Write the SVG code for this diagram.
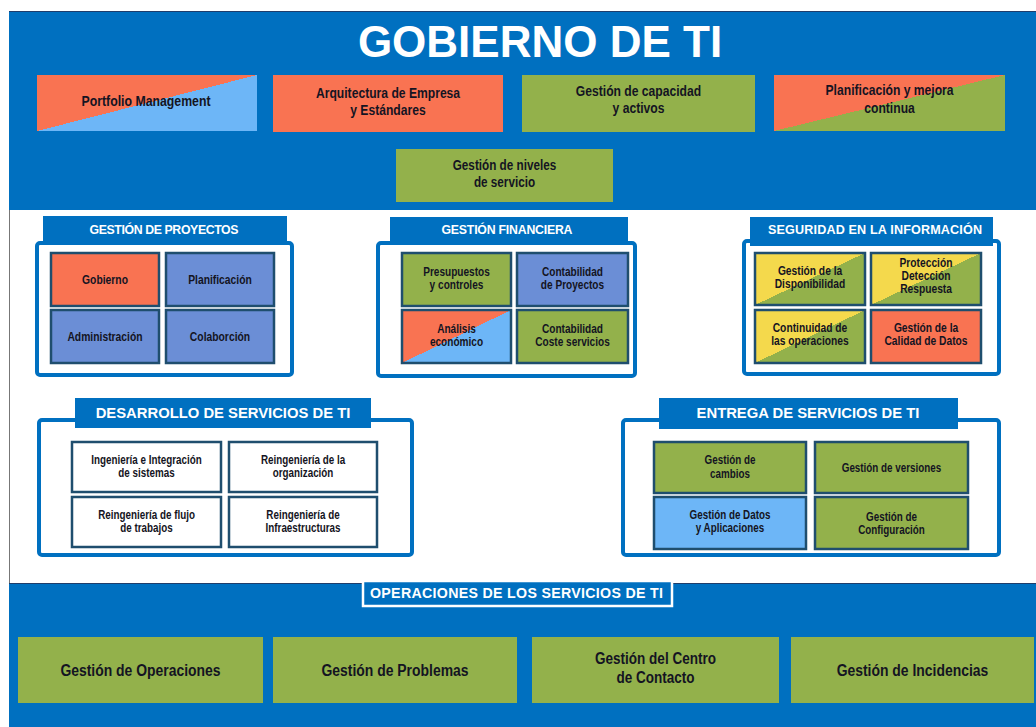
<svg xmlns="http://www.w3.org/2000/svg" width="1036" height="727" viewBox="0 0 1036 727">
<style>
.band{fill:#0070C0}
.frame{fill:#FFFFFF;stroke:#0070C0;stroke-width:4}
.tab{fill:#0070C0}
.tabt{font-family:"Liberation Sans",Arial,sans-serif;font-weight:bold;fill:#FFFFFF;text-anchor:middle}
.bx{stroke:#1F4E6E;stroke-width:2.5}
.t{font-family:"Liberation Sans",Arial,sans-serif;font-weight:bold;fill:#141422;text-anchor:middle;transform-box:fill-box;transform-origin:50% 50%;transform:scaleX(0.82)}
.orange{fill:#F97352}
.green{fill:#93B14B}
.lblue{fill:#6DB6F7}
.slate{fill:#6B8ED6}
.white{fill:#FFFFFF}
</style>
<defs>
<linearGradient id="orBl" x1="0" y1="0" x2="1" y2="1"><stop offset="0.5" stop-color="#F97352"/><stop offset="0.5" stop-color="#6DB6F7"/></linearGradient>
<linearGradient id="orGr" x1="0" y1="0" x2="1" y2="1"><stop offset="0.5" stop-color="#F97352"/><stop offset="0.5" stop-color="#93B14B"/></linearGradient>
<linearGradient id="yeGr" x1="0" y1="0" x2="1" y2="1"><stop offset="0.5" stop-color="#F4D94C"/><stop offset="0.5" stop-color="#93B14B"/></linearGradient>
</defs>
<rect width="1036" height="727" fill="#FFFFFF"/>
<line x1="9.5" y1="210" x2="9.5" y2="583" stroke="#777" stroke-width="1"/>

<g id="gobierno">
<rect class="band" x="9" y="11" width="1027" height="199"/>
<line x1="9" y1="11.5" x2="1036" y2="11.5" stroke="#1F3D6B" stroke-width="1"/>
<text x="540" y="57" font-family="Liberation Sans,Arial,sans-serif" font-weight="bold" font-size="44" fill="#FFFFFF" text-anchor="middle">GOBIERNO DE TI</text>
</g>
<g id="portfolio">
<rect x="37" y="75" width="220" height="56" fill="url(#orBl)"/>
<text class="t" x="146" y="106" font-size="15">Portfolio Management</text>
</g>
<g id="arquitectura">
<rect class="orange" x="273" y="75" width="230" height="57"/>
<text class="t" x="388" y="98" font-size="14.8">Arquitectura de Empresa</text>
<text class="t" x="388" y="115" font-size="14.8">y Estándares</text>
</g>
<g id="capacidad">
<rect class="green" x="522" y="75" width="233" height="57"/>
<text class="t" x="638.5" y="96" font-size="14.8">Gestión de capacidad</text>
<text class="t" x="638.5" y="113" font-size="14.8">y activos</text>
</g>
<g id="planificacion-mejora">
<rect x="774" y="75" width="231" height="56" fill="url(#orGr)"/>
<text class="t" x="889.5" y="95.5" font-size="14.8">Planificación y mejora</text>
<text class="t" x="889.5" y="113" font-size="14.8">continua</text>
</g>
<g id="niveles-servicio">
<rect class="green" x="396" y="149" width="217" height="53"/>
<text class="t" x="504.5" y="170" font-size="14.3">Gestión de niveles</text>
<text class="t" x="504.5" y="187" font-size="14.3">de servicio</text>
</g>

<g id="gestion-proyectos">
<rect class="frame" x="37" y="243" width="255" height="132" rx="3"/>
<rect class="tab" x="43" y="216" width="244" height="27"/>
<text class="tabt" x="164" y="234" font-size="12.3" textLength="149">GESTIÓN DE PROYECTOS</text>
</g>
<g id="gobierno-p"><rect class="bx orange" x="51" y="253" width="108" height="53"/><text class="t" x="105" y="284" font-size="12.6">Gobierno</text></g>
<g id="planificacion-p"><rect class="bx slate" x="166" y="253" width="108" height="53"/><text class="t" x="220" y="284" font-size="12.6">Planificación</text></g>
<g id="administracion-p"><rect class="bx slate" x="51" y="310" width="108" height="53"/><text class="t" x="105" y="341" font-size="12.6">Administración</text></g>
<g id="colaboracion-p"><rect class="bx slate" x="166" y="310" width="108" height="53"/><text class="t" x="220" y="341" font-size="12.6">Colaborción</text></g>

<g id="gestion-financiera">
<rect class="frame" x="378" y="243" width="257" height="133" rx="3"/>
<rect class="tab" x="390" y="217" width="238" height="26"/>
<text class="tabt" x="507" y="234" font-size="12.3" textLength="131">GESTIÓN FINANCIERA</text>
</g>
<g id="presupuestos"><rect class="bx green" x="402" y="253" width="109" height="53"/><text class="t" x="456.5" y="276" font-size="12.3">Presupuestos</text><text class="t" x="456.5" y="289.5" font-size="12.3">y controles</text></g>
<g id="contab-proyectos"><rect class="bx slate" x="517" y="253" width="111" height="53"/><text class="t" x="572.5" y="276" font-size="12.3">Contabilidad</text><text class="t" x="572.5" y="289.5" font-size="12.3">de Proyectos</text></g>
<g id="analisis"><rect class="bx" x="402" y="310" width="109" height="53" fill="url(#orBl)"/><text class="t" x="456.5" y="333" font-size="12.3">Análisis</text><text class="t" x="456.5" y="346.5" font-size="12.3">económico</text></g>
<g id="contab-coste"><rect class="bx green" x="517" y="310" width="111" height="53"/><text class="t" x="572.5" y="333" font-size="12.3">Contabilidad</text><text class="t" x="572.5" y="346.5" font-size="12.3">Coste servicios</text></g>

<g id="seguridad">
<rect class="frame" x="744" y="241" width="255" height="133" rx="3"/>
<rect class="tab" x="750" y="217" width="243" height="29"/>
<text class="tabt" x="875" y="234" font-size="12.6" textLength="214">SEGURIDAD EN LA INFORMACIÓN</text>
</g>
<g id="disponibilidad"><rect class="bx" x="755" y="253" width="110" height="52" fill="url(#yeGr)"/><text class="t" x="810" y="275" font-size="12.5">Gestión de la</text><text class="t" x="810" y="288.5" font-size="12.5">Disponibilidad</text></g>
<g id="proteccion"><rect class="bx" x="871" y="253" width="110" height="52" fill="url(#yeGr)"/><text class="t" x="926" y="267.5" font-size="12.5">Protección</text><text class="t" x="926" y="280.5" font-size="12.5">Detección</text><text class="t" x="926" y="293.5" font-size="12.5">Respuesta</text></g>
<g id="continuidad"><rect class="bx" x="755" y="310" width="110" height="53" fill="url(#yeGr)"/><text class="t" x="810" y="332" font-size="12.5">Continuidad de</text><text class="t" x="810" y="345.5" font-size="12.5">las operaciones</text></g>
<g id="calidad-datos"><rect class="bx orange" x="871" y="310" width="110" height="53"/><text class="t" x="926" y="332" font-size="12.5">Gestión de la</text><text class="t" x="926" y="345.5" font-size="12.5">Calidad de Datos</text></g>

<g id="desarrollo">
<rect class="frame" x="39" y="420" width="373" height="135" rx="3"/>
<rect class="tab" x="75" y="398" width="296" height="30"/>
<text class="tabt" x="223" y="418" font-size="14.8">DESARROLLO DE SERVICIOS DE TI</text>
</g>
<g id="ingenieria"><rect class="bx white" x="72" y="442" width="149" height="50"/><text class="t" x="146.5" y="464" font-size="12">Ingeniería e Integración</text><text class="t" x="146.5" y="477" font-size="12">de sistemas</text></g>
<g id="reing-organizacion"><rect class="bx white" x="229" y="442" width="148" height="50"/><text class="t" x="303" y="464" font-size="12">Reingeniería de la</text><text class="t" x="303" y="477" font-size="12">organización</text></g>
<g id="reing-flujo"><rect class="bx white" x="72" y="497" width="149" height="50"/><text class="t" x="146.5" y="519" font-size="12">Reingeniería de flujo</text><text class="t" x="146.5" y="532" font-size="12">de trabajos</text></g>
<g id="reing-infra"><rect class="bx white" x="229" y="497" width="148" height="50"/><text class="t" x="303" y="519" font-size="12">Reingeniería de</text><text class="t" x="303" y="532" font-size="12">Infraestructuras</text></g>

<g id="entrega">
<rect class="frame" x="623" y="420" width="376" height="135" rx="3"/>
<rect class="tab" x="659" y="398" width="299" height="31"/>
<text class="tabt" x="808" y="418" font-size="14.8">ENTREGA DE SERVICIOS DE TI</text>
</g>
<g id="cambios"><rect class="bx green" x="654" y="442" width="152" height="51"/><text class="t" x="730" y="464.5" font-size="12">Gestión de</text><text class="t" x="730" y="478" font-size="12">cambios</text></g>
<g id="versiones"><rect class="bx green" x="815" y="442" width="153" height="51"/><text class="t" x="891.5" y="472" font-size="12">Gestión de versiones</text></g>
<g id="datos-aplicaciones"><rect class="bx lblue" x="654" y="497" width="152" height="52"/><text class="t" x="730" y="519" font-size="12">Gestión de Datos</text><text class="t" x="730" y="532.5" font-size="12">y Aplicaciones</text></g>
<g id="configuracion"><rect class="bx green" x="815" y="497" width="153" height="52"/><text class="t" x="891.5" y="521" font-size="12">Gestión de</text><text class="t" x="891.5" y="534.5" font-size="12">Configuración</text></g>

<g id="operaciones">
<rect class="band" x="9" y="583" width="1027" height="144"/>
<line x1="9" y1="583.5" x2="1036" y2="583.5" stroke="#1F3D6B" stroke-width="1"/>
<rect class="tab" x="363" y="581" width="309" height="25" stroke="#FFFFFF" stroke-width="2.5"/>
<text class="tabt" x="516.5" y="598" font-size="14.2" textLength="293">OPERACIONES DE LOS SERVICIOS DE TI</text>
</g>
<g id="g-operaciones"><rect class="green" x="18" y="637" width="245" height="66"/><text class="t" x="140.5" y="676" font-size="17">Gestión de Operaciones</text></g>
<g id="g-problemas"><rect class="green" x="273" y="637" width="244" height="66"/><text class="t" x="395" y="676" font-size="17">Gestión de Problemas</text></g>
<g id="g-contacto"><rect class="green" x="532" y="637" width="247" height="66"/><text class="t" x="655.5" y="664.5" font-size="16.5">Gestión del Centro</text><text class="t" x="655.5" y="683.5" font-size="16.5">de Contacto</text></g>
<g id="g-incidencias"><rect class="green" x="791" y="637" width="243" height="66"/><text class="t" x="912.5" y="676" font-size="17">Gestión de Incidencias</text></g>
<g id="connectors"/>
</svg>
